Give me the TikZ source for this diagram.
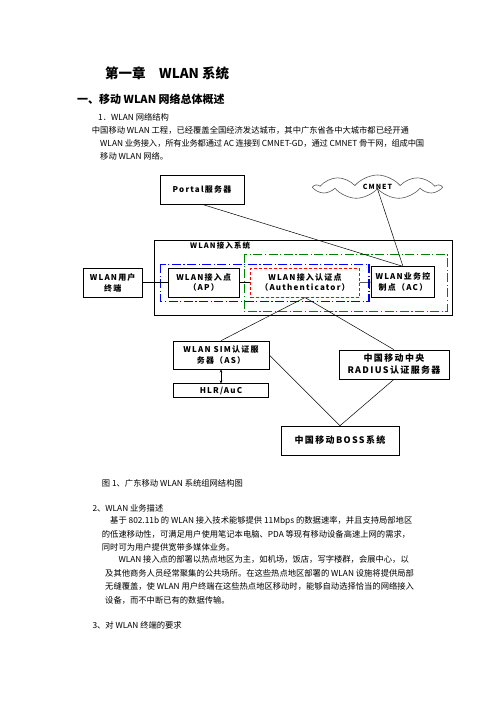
\documentclass[tikz,border=0pt]{standalone}
\usepackage{fontspec}
\setmainfont{Noto Sans CJK SC}
\newfontfamily\boxfont[LetterSpace=15]{Noto Sans CJK SC}
\usetikzlibrary{arrows.meta,shapes.symbols}
\XeTeXlinebreaklocale "zh"
\XeTeXlinebreakskip=0pt plus 1pt minus 0.8pt
\definecolor{sysgreen}{RGB}{0,128,0}
\definecolor{sysblue}{RGB}{0,0,255}
\definecolor{authred}{RGB}{255,0,0}
\newcommand\bodyfont{\fontsize{8.3}{10}\selectfont}

\begin{document}
\begin{tikzpicture}[x=1pt, y=-1pt,
  unit/.style={draw, fill=white, line width=0.6pt, align=center, inner sep=0pt, font=\boxfont\bfseries\fontsize{8}{10.5}\selectfont},
  bigunit/.style={unit, font=\boxfont\bfseries\fontsize{9}{12}\selectfont},
  link/.style={line width=0.5pt},
  bodyline/.style={anchor=west, inner sep=0pt, font=\bodyfont},
  justline/.style={bodyline, align=justify}]
\fill[white] (0,0) rectangle (496,702);
\useasboundingbox (0,0) rectangle (496,702);
% headings and first paragraph
\node[anchor=west, inner sep=0pt, font=\bfseries\fontsize{13.5}{16}\selectfont] (title) at (105,73) {第一章\hspace{1em}WLAN 系统};
\node[anchor=west, inner sep=0pt, font=\bfseries\fontsize{11}{14}\selectfont] (section) at (77,99) {一、移动 WLAN 网络总体概述};
\node[bodyline] (sub1) at (98,117) {1．WLAN 网络结构};
\node[justline, text width=332pt] (p0a) at (91.7,130) {\parfillskip=0pt\relax 中国移动 WLAN 工程，已经覆盖全国经济发达城市，其中广东省各中大城市都已经开通};
\node[justline, text width=324pt] (p0b) at (100,143) {\parfillskip=0pt\relax WLAN 业务接入，所有业务都通过 AC 连接到 CMNET-GD，通过 CMNET 骨干网，组成中国};
\node[bodyline] (p0c) at (100,156) {移动 WLAN 网络。};
% network diagram
\node[unit, minimum width=84pt, minimum height=29pt] (portal) at (202,189.5) {Portal服务器};
\node[cloud, cloud puffs=9, cloud puff arc=100, cloud ignores aspect, draw=black!65, fill=white, line width=0.6pt, minimum width=125pt, minimum height=24pt, inner sep=0pt, font=\boxfont\bfseries\fontsize{7}{9}\selectfont] (cmnet) at (377.5,187) {CMNET};
\draw[line width=0.7pt] (154,240.5) rectangle (452,315);
\node[anchor=west, inner sep=0pt, font=\boxfont\bfseries\fontsize{7.5}{9}\selectfont] (syslabel) at (190,245.5) {WLAN接入系统};
\draw[sysgreen, line width=0.9pt, dash pattern=on 9pt off 2.5pt on 1.2pt off 2.5pt] (244,254) rectangle (447,311);
\draw[sysblue, line width=0.8pt, dash pattern=on 9pt off 2.5pt on 1.2pt off 2.5pt] (160,264) rectangle (369,301);
\draw[sysblue, line width=1.5pt, dash pattern=on 9pt off 2.5pt on 1.2pt off 2.5pt] (369,264) -- (369,301);
\node[unit, minimum width=59pt, minimum height=29pt] (user) at (112.7,282.7) {WLAN用户\\终端};
\node[unit, minimum width=71pt, minimum height=29pt] (ap) at (203.7,282.7) {WLAN接入点\\（AP）};
\node[unit, draw=authred, dash pattern=on 3pt off 2pt, minimum width=108.6pt, minimum height=29pt] (auth) at (305,282.7) {WLAN接入认证点\\（Authenticator）};
\node[unit, minimum width=62.6pt, minimum height=30.6pt] (ac) at (403,282) {WLAN业务控\\制点（AC）};
\node[unit, minimum width=96pt, minimum height=28pt] (as) at (221,355) {WLAN SIM认证服\\务器（AS）};
\node[unit, minimum width=95pt, minimum height=13.5pt] (hlr) at (221,390.5) {HLR/AuC};
\node[bigunit, minimum width=110pt, minimum height=29pt] (radius) at (394,364.5) {中国移动中央\\RADIUS认证服务器};
\node[bigunit, minimum width=118pt, minimum height=29pt] (boss) at (340,440.5) {中国移动BOSS系统};
\draw[link] (portal.south) -- (ac.north);
\draw[link] (cmnet.south) -- (ac.north);
\draw[link] (user) -- (ap);
\draw[link] (ap) -- (auth);
\draw[link] (auth) -- (ac);
\draw[link] (auth.south) -- (as.north);
\draw[link] (auth.south) -- (radius.north);
\draw[link] (as.east) -- (boss.north);
\draw[link] (radius.south) -- (boss.north);
\draw[link, {Stealth[length=3pt,width=2.6pt]}-{Stealth[length=3pt,width=2.6pt]}] (as) -- (hlr);
% caption and following text
\node[bodyline] (caption) at (101.7,483) {图 1、广东移动 WLAN 系统组网结构图};
\node[bodyline] (sub2) at (92.3,508) {2、WLAN 业务描述};
\node[justline, text width=311pt] (p1a) at (110,521) {\parfillskip=0pt\relax 基于 802.11b 的 WLAN 接入技术能够提供 11Mbps 的数据速率，并且支持局部地区};
\node[justline, text width=319pt] (p1b) at (101.7,534) {\parfillskip=0pt\relax 的低速移动性，可满足用户使用笔记本电脑、PDA 等现有移动设备高速上网的需求，};
\node[bodyline] (p1c) at (101.7,547) {同时可为用户提供宽带多媒体业务。};
\node[justline, text width=303pt] (p2a) at (118.3,559) {\parfillskip=0pt\relax WLAN 接入点的部署以热点地区为主，如机场，饭店，写字楼群，会展中心，以};
\node[justline, text width=316pt] (p2b) at (105,573) {\parfillskip=0pt\relax 及其他商务人员经常聚集的公共场所。在这些热点地区部署的 WLAN 设施将提供局部};
\node[justline, text width=316pt] (p2c) at (105,586) {\parfillskip=0pt\relax 无缝覆盖，使 WLAN 用户终端在这些热点地区移动时，能够自动选择恰当的网络接入};
\node[bodyline] (p2d) at (105,600) {设备，而不中断已有的数据传输。};
\node[bodyline] (sub3) at (92.3,625) {3、对 WLAN 终端的要求};
\end{tikzpicture}
\end{document}
